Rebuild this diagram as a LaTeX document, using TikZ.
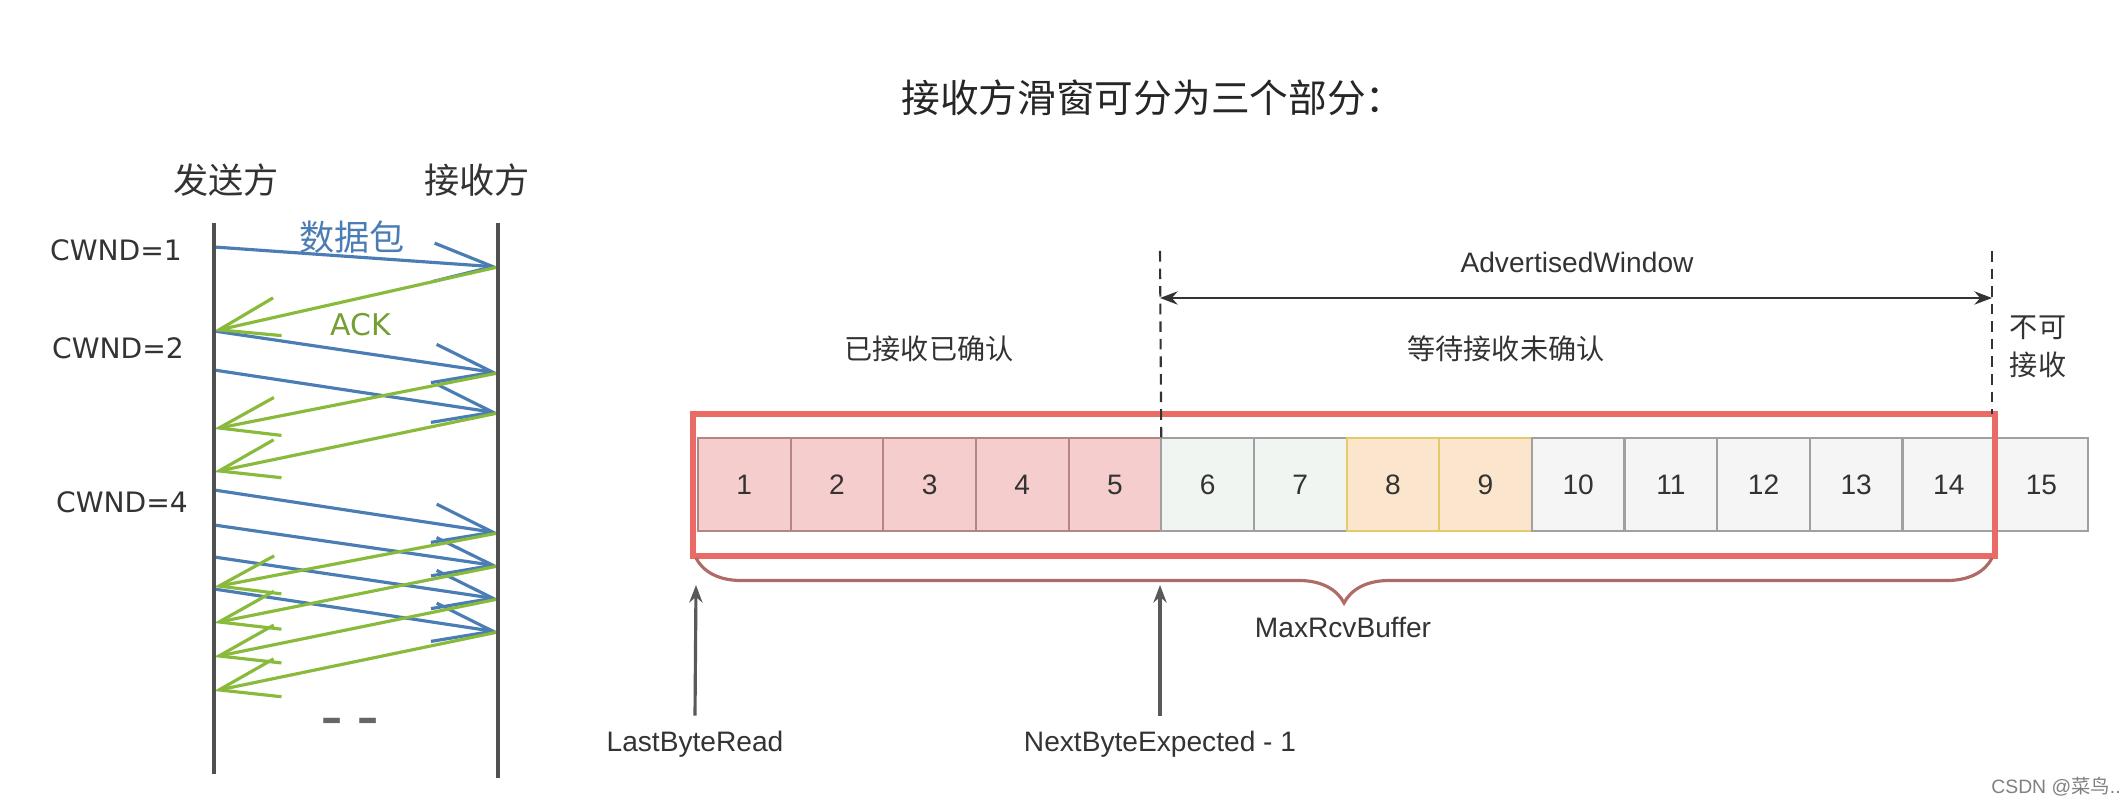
\documentclass[tikz,border=0pt]{standalone}
\usepackage{fontspec}
\setmainfont{Liberation Sans}
\newfontfamily\cjk{Noto Sans CJK SC}
\newfontfamily\verd{DejaVu Sans}
\usetikzlibrary{positioning, arrows.meta, decorations.pathreplacing}
\definecolor{pktblue}{HTML}{4A7DB3}
\definecolor{ackgreen}{HTML}{8ABA3C}
\definecolor{lifegray}{HTML}{505050}
\definecolor{inkgray}{HTML}{333333}
\definecolor{winred}{HTML}{EA6B66}
\definecolor{bracered}{HTML}{B06A68}
\definecolor{ackfill}{HTML}{F6CDCD}
\definecolor{ackline}{HTML}{B58483}
\definecolor{pendfill}{HTML}{F1F5F1}
\definecolor{gotfill}{HTML}{FCE5CD}
\definecolor{gotline}{HTML}{E3CB6A}
\definecolor{freefill}{HTML}{F5F5F5}
\definecolor{boxline}{HTML}{A0A0A0}

\begin{document}
\begin{tikzpicture}[x=0.01cm, y=-0.01cm,
  party/.style={font=\cjk\fontsize{10}{12}\selectfont, text=inkgray},
  cwnd/.style={font=\verd\fontsize{8}{10}\selectfont, text=inkgray},
  lifeline/.style={line width=1.1pt, lifegray},
  pkt/.style={-{Straight Barb[length=17pt, width=11pt]}, line width=0.9pt, pktblue},
  ack/.style={-{Straight Barb[length=17pt, width=11pt]}, line width=0.9pt, ackgreen},
  byte/.style={draw, minimum width=0.926cm, minimum height=0.93cm, outer sep=0pt,
               inner sep=0pt, line width=0.6pt, font=\fontsize{8}{10}\selectfont, text=inkgray},
  ackbyte/.style={byte, fill=ackfill, draw=ackline},
  pendbyte/.style={byte, fill=pendfill, draw=boxline},
  gotbyte/.style={byte, fill=gotfill, draw=gotline},
  freebyte/.style={byte, fill=freefill, draw=boxline},
  window/.style={draw=winred, line width=1.5pt},
  guide/.style={densely dashed, line width=0.6pt, inkgray},
  span/.style={{Stealth[length=5pt]}-{Stealth[length=5pt]}, line width=0.7pt, black!80},
  ptr/.style={-{Stealth[length=5pt]}, line width=0.9pt, black!65},
  note/.style={font=\cjk\fontsize{8}{10.8}\selectfont, text=inkgray, align=center},
  lbl/.style={font=\fontsize{8}{10}\selectfont, text=inkgray, inner sep=1pt},
  heading/.style={font=\cjk\fontsize{11}{13}\selectfont, text=black!85}]
  \useasboundingbox (0,0) rectangle (2128,804);
  % Sender / receiver
  \node[party] (snd) at (226,180) {发送方};
  \node[party] (rcv) at (477,180) {接收方};
  \coordinate (sTop) at (214,223);
  \coordinate (sBot) at (214,774);
  \coordinate (rTop) at (498,223);
  \coordinate (rBot) at (498,778);
  \node[cwnd] (w1) at (116,250) {CWND=1};
  \node[cwnd] (w2) at (118,348) {CWND=2};
  \node[cwnd] (w4) at (122,502) {CWND=4};
  % points on the sender side
  \coordinate (s1) at (214,247);
  \coordinate (s2) at (214,331);
  \coordinate (s3) at (214,370);
  \coordinate (s4) at (214,490);
  \coordinate (s5) at (214,525);
  \coordinate (s6) at (214,557);
  \coordinate (s7) at (214,589);
  \coordinate (a2) at (214,429);
  \coordinate (a3) at (214,472);
  \coordinate (a4) at (214,587);
  \coordinate (a5) at (214,623);
  \coordinate (a6) at (214,657);
  \coordinate (a7) at (214,691);
  % points on the receiver side
  \coordinate (r1) at (498,267);
  \coordinate (r2) at (498,373);
  \coordinate (r3) at (498,413);
  \coordinate (r4) at (498,533);
  \coordinate (r5) at (498,566);
  \coordinate (r6) at (498,599);
  \coordinate (r7) at (498,632);
  % Data packets
  \draw[pkt] (s1) -- (r1);
  \draw[pkt] (s2) -- (r2);
  \draw[pkt] (s3) -- (r3);
  \draw[pkt] (s4) -- (r4);
  \draw[pkt] (s5) -- (r5);
  \draw[pkt] (s6) -- (r6);
  \draw[pkt] (s7) -- (r7);
  % ACKs
  \draw[ack] (r1) -- (s2);
  \draw[ack] (r2) -- (a2);
  \draw[ack] (r3) -- (a3);
  \draw[ack] (r4) -- (a4);
  \draw[ack] (r5) -- (a5);
  \draw[ack] (r6) -- (a6);
  \draw[ack] (r7) -- (a7);
  \draw[lifeline] (sTop) -- (sBot);
  \draw[lifeline] (rTop) -- (rBot);
  \node[font=\cjk\fontsize{10}{12}\selectfont, text=pktblue] (pktlbl) at (352,237) {数据包};
  \node[font=\verd\fontsize{8.5}{10}\selectfont, text=ackgreen!85!black] (acklbl) at (361,325) {ACK};
  \node[font=\verd\bfseries\fontsize{12}{12}\selectfont, text=black!60] (more) at (350,725) {– –};

  % Title
  \node[heading] (head) at (1153,98) {接收方滑窗可分为三个部分：};

  % Receive buffer bytes
  \node[ackbyte] (c1) at (744.3,484.5) {1};
  \node[ackbyte, right=0pt of c1] (c2) {2};
  \node[ackbyte, right=0pt of c2] (c3) {3};
  \node[ackbyte, right=0pt of c3] (c4) {4};
  \node[ackbyte, right=0pt of c4] (c5) {5};
  \node[pendbyte, right=0pt of c5] (c6) {6};
  \node[pendbyte, right=0pt of c6] (c7) {7};
  \node[gotbyte, right=0pt of c7] (c8) {8};
  \node[gotbyte, right=0pt of c8] (c9) {9};
  \node[freebyte, right=0pt of c9] (c10) {10};
  \node[freebyte, right=0pt of c10] (c11) {11};
  \node[freebyte, right=0pt of c11] (c12) {12};
  \node[freebyte, right=0pt of c12] (c13) {13};
  \node[freebyte, right=0pt of c13] (c14) {14};
  \node[freebyte, right=0pt of c14] (c15) {15};
  \draw[window] (693,414) rectangle (1995,556);

  % Advertised window
  \coordinate (advL) at (1160,251);
  \coordinate (advR) at (1992,251);
  \coordinate (awL) at (1160,298);
  \coordinate (awR) at (1992,298);
  \draw[guide] (advL) -- (c6.north west);
  \draw[guide] (advR) -- (1992,414);
  \draw[span] (awL) -- (awR);
  \node[lbl] (awlbl) at (1577,262) {AdvertisedWindow};
  \node[note] (acked) at (929,349) {已接收已确认};
  \node[note] (pending) at (1506,349) {等待接收未确认};
  \node[note] (nope) at (2038,347) {不可\\接收};

  % Buffer brace and pointers
  \draw[bracered, line width=0.9pt, decorate, decoration={brace, amplitude=0.45cm}]
    (1992,558) -- (696,558);
  \node[lbl] (maxbuf) at (1343,627) {MaxRcvBuffer};
  \node[lbl] (lbr) at (695,744) {LastByteRead};
  \node[lbl] (nbe) at (1160,744) {NextByteExpected - 1};
  \coordinate (lbrTip) at (696,585);
  \coordinate (nbeTip) at (1160,585);
  \draw[ptr] (lbr.north) ++(0,-11) -- (lbrTip);
  \draw[ptr] (nbe.north) ++(0,-11) -- (nbeTip);
  \node[font=\fontsize{5.5}{6}\selectfont, text=black!50] (mark) at (2056,787) {CSDN @{\cjk 菜鸟}..};
\end{tikzpicture}
\end{document}
